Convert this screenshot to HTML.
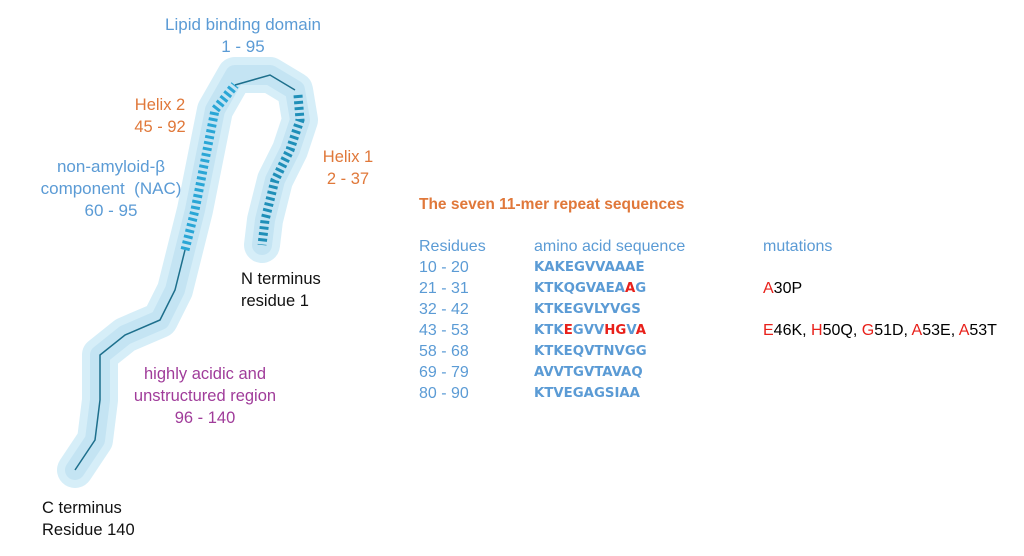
<!DOCTYPE html>
<html><head><meta charset="utf-8"><style>
body{margin:0;width:1024px;height:556px;background:#fff;position:relative;overflow:hidden;font-family:"Liberation Sans",sans-serif}
.t{position:absolute;font-size:16.5px;line-height:22px;text-align:center;white-space:nowrap}
.b{color:#5b9bd5}.o{color:#e0783a}.p{color:#a03c9a}.k{color:#111}
.s{position:absolute;font-size:16px;line-height:21px;white-space:nowrap}
.s div{height:21px;line-height:21px}
.seq{font-weight:bold;color:#5b9bd5;font-family:"DejaVu Sans","Liberation Sans",sans-serif;font-size:13.3px}
.r{color:#e8201a}
</style></head><body>
<svg width="1024" height="556" style="position:absolute;left:0;top:0">
<path d="M75,470 L95,440 L100,400 L100,355 L125,335 L160,320 L175,290 L185,250 L195,210 L205,160 L215,110 L235,75 L270,75 L295,90 L300,120 L290,150 L275,180 L265,220 L262,245" fill="none" stroke="#d6eef8" stroke-width="36" stroke-linejoin="round" stroke-linecap="round"/>
<path d="M75,470 L95,440 L100,400 L100,355 L125,335 L160,320 L175,290 L185,250 L195,210 L205,160 L215,110 L235,75 L270,75 L295,90 L300,120 L290,150 L275,180 L265,220 L262,245" fill="none" stroke="#c4e4f3" stroke-width="20" stroke-linejoin="round" stroke-linecap="round"/>
<path d="M185,250 L195,210 L205,160 L215,110 L235,85" fill="none" stroke="#2aa6d6" stroke-width="9" stroke-dasharray="3 3"/>
<path d="M298,95 L300,120 L290,150 L275,180 L265,220 L262,245" fill="none" stroke="#1f8fb8" stroke-width="9" stroke-dasharray="3 3"/>
<path d="M75,470 L95,440 L100,400 L100,355 L125,335 L160,320 L175,290 L185,250 M235,85 L270,75 L295,90" fill="none" stroke="#1d6f8c" stroke-width="1.5"/>
</svg>
<div class="t b" style="left:143px;top:14px;width:200px;font-size:17px">Lipid binding domain<br>1 - 95</div>
<div class="t o" style="left:120px;top:94px;width:80px">Helix 2<br>45 - 92</div>
<div class="t o" style="left:308px;top:146px;width:80px">Helix 1<br>2 - 37</div>
<div class="t b" style="left:26px;top:156px;width:170px;font-size:17px">non-amyloid-β<br>component &nbsp;(NAC)<br>60 - 95</div>
<div class="t k" style="left:241px;top:268px;text-align:left">N terminus<br>residue 1</div>
<div class="t p" style="left:115px;top:363px;width:180px">highly acidic and<br>unstructured region<br>96 - 140</div>
<div class="t k" style="left:42px;top:497px;text-align:left">C terminus<br>Residue 140</div>
<div class="s" style="left:419px;top:194px;color:#e0783a;font-weight:bold;font-size:15.5px">The seven 11-mer repeat sequences</div>
<div class="s b" style="left:419px;top:236px">Residues<br>10 - 20<br>21 - 31<br>32 - 42<br>43 - 53<br>58 - 68<br>69 - 79<br>80 - 90</div>
<div class="s" style="left:534px;top:236px"><div class="b">amino acid sequence</div><div class="seq">KAKEGVVAAAE</div><div class="seq">KTKQGVAEA<span class="r">A</span>G</div><div class="seq">KTKEGVLYVGS</div><div class="seq">KTK<span class="r">E</span>GVV<span class="r">HG</span>V<span class="r">A</span></div><div class="seq">KTKEQVTNVGG</div><div class="seq">AVVTGVTAVAQ</div><div class="seq">KTVEGAGSIAA</div></div>
<div class="s" style="left:763px;top:236px"><span class="b">mutations</span><br><br><span class="r">A</span>30P<br><br><span class="r">E</span>46K, <span class="r">H</span>50Q, <span class="r">G</span>51D, <span class="r">A</span>53E, <span class="r">A</span>53T</div>
</body></html>
